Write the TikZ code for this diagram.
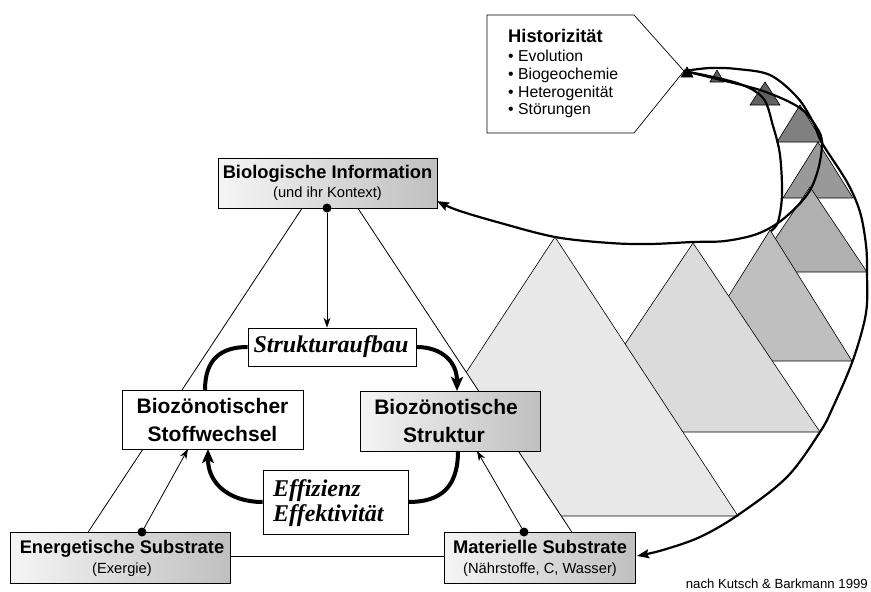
\documentclass[tikz,border=0pt]{standalone}
\usepackage{fontspec}
\setmainfont{Liberation Sans}
\newfontfamily\tmsfont{Liberation Serif}
\usetikzlibrary{arrows.meta}
\definecolor{tA}{gray}{0.91}
\definecolor{tB}{gray}{0.86}
\definecolor{tC}{gray}{0.75}
\definecolor{tD}{gray}{0.69}
\definecolor{tE}{gray}{0.60}
\definecolor{tF}{gray}{0.50}
\definecolor{tG}{gray}{0.38}
\definecolor{tH}{gray}{0.36}
\newcommand\myHead{\fontsize{18.3pt}{20pt}\selectfont\bfseries}
\newcommand\mySub{\fontsize{14.7pt}{16pt}\selectfont}
\newcommand\myMid{\fontsize{21pt}{24pt}\selectfont\bfseries}
\newcommand\myBI{\fontsize{24pt}{26pt}\selectfont\tmsfont\bfseries\itshape}
\newcommand\myBul{\fontsize{15.8pt}{18pt}\selectfont}
\begin{document}
\begin{tikzpicture}[x=1pt,y=-1pt,
  box/.style={draw, line width=0.8pt, inner sep=0pt},
  plainbox/.style={box, fill=white},
  shadebox/.style={box, left color=gray!8, right color=gray!50},
  lbl/.style={inner sep=0pt, anchor=base},
  lblw/.style={inner sep=0pt, anchor=base west},
  tri/.style={draw, line width=0.6pt},
  thin arrow/.style={line width=0.8pt, -{Stealth[length=10pt,width=7pt]}},
  cyc/.style={line width=4pt},
  cycarrow/.style={line width=4pt, -{Stealth[length=14pt,width=12pt,inset=3pt]}},
  spiral/.style={line width=2.2pt},
  spiralarrow/.style={line width=2.2pt, -{Stealth[length=12pt,width=9pt,inset=2pt]}},
  dot/.style={circle, fill=black, inner sep=0pt, minimum size=9pt}]
\useasboundingbox (0,0) rectangle (871,592);

% ---- pyramids (small/dark first, large/light on top)
\filldraw[tri, fill=black] (687,67) -- (693,77) -- (681,77) -- cycle;
\filldraw[tri, fill=tH] (717,70) -- (724,82) -- (710,82) -- cycle;
\filldraw[tri, fill=tG] (765,82) -- (780,105) -- (750,105) -- cycle;
\filldraw[tri, fill=tF] (800,105) -- (823,142) -- (777,142) -- cycle;
\filldraw[tri, fill=tE] (818,142) -- (853,198) -- (783,198) -- cycle;
\filldraw[tri, fill=tD] (810,187) -- (867,272) -- (753,272) -- cycle;
\filldraw[tri, fill=tC] (770,230) -- (852,361) -- (688,361) -- cycle;
\filldraw[tri, fill=tB] (693,243) -- (820,432) -- (566,432) -- cycle;
\filldraw[tri, fill=tA] (555,237) -- (738,516) -- (372,516) -- cycle;

% ---- white main triangle
\filldraw[fill=white, draw=black, line width=0.8pt] (330,166) -- (588,556.5) -- (72,556.5) -- cycle;

% ---- named points
\coordinate (tip) at (684,71);
\coordinate (bioin) at (437,201);
\coordinate (merge) at (771,231);

% ---- spiral curves
\draw[spiralarrow] plot[smooth, tension=0.55] coordinates {(tip) (710,68) (737,69) (770,75) (797,97) (813,122) (822,143) (847,182) (860,212) (866,245) (867,272) (866,313) (853,360) (833,407) (820,432) (787,477) (738,515) (700,537) (663,550) (637,556)};
\draw[spiralarrow] plot[smooth, tension=0.55] coordinates {(tip) (713,78) (763,91) (800,108) (817,128) (822,143) (818,170) (807,195) (782,220) (757,234) (725,241) (693,242) (650,244) (610,243) (555,237) (497,222) (457,210) (bioin)};
\draw[spiral] plot[smooth, tension=0.55] coordinates {(tip) (737,83) (763,98) (773,126) (780,155) (782,195) (778,222) (merge)};

% ---- Historizitaet
\filldraw[fill=white, draw=black, line width=0.7pt] (487,15) -- (634,15) -- (tip) -- (634,133) -- (487,133) -- cycle;
\node[lblw] (histT) at (508,42) {\myHead Historizität};
\node[lblw] (hist1) at (508,61) {\myBul • Evolution};
\node[lblw] (hist2) at (508,79) {\myBul • Biogeochemie};
\node[lblw] (hist3) at (508,97) {\myBul • Heterogenität};
\node[lblw] (hist4) at (508,114) {\myBul • Störungen};

% ---- boxes
\node[shadebox, minimum width=219pt, minimum height=50pt] (bio) at (327.5,183) {};
\node[shadebox, minimum width=220pt, minimum height=51pt] (energ) at (120,557.5) {};
\node[shadebox, minimum width=191pt, minimum height=51pt] (mater) at (539.5,557.5) {};
\node[plainbox, minimum width=181pt, minimum height=59pt] (stoff) at (212.5,419.5) {};
\node[shadebox, minimum width=180pt, minimum height=60pt] (struk) at (450,421) {};
\node[plainbox, minimum width=168pt, minimum height=38pt] (aufbau) at (332,347) {};
\node[plainbox, minimum width=145pt, minimum height=64pt] (effiz) at (335.5,502) {};

% ---- labels
\node[lbl] (bioA) at (327.5,178) {\myHead Biologische Information};
\node[lbl] (bioB) at (327.5,197) {\mySub (und ihr Kontext)};
\node[lbl] (enA) at (122,553) {\myHead Energetische Substrate};
\node[lbl] (enB) at (122,573) {\mySub (Exergie)};
\node[lbl] (maA) at (540,553) {\myHead Materielle Substrate};
\node[lbl] (maB) at (540,573) {\mySub (Nährstoffe, C, Wasser)};
\node[lbl] (stA) at (212.5,413) {\myMid Biozönotischer};
\node[lbl] (stB) at (212.5,441) {\myMid Stoffwechsel};
\node[lbl] (skA) at (446,414) {\myMid Biozönotische};
\node[lbl] (skB) at (444,442) {\myMid Struktur};
\node[lbl] (auA) at (331,352) {\myBI Strukturaufbau};
\node[lblw] (efA) at (273,496) {\myBI Effizienz};
\node[lblw] (efB) at (273,521) {\myBI Effektivität};
\node[inner sep=0pt, anchor=base east] (src) at (868,588.5) {\fontsize{13.2pt}{15pt}\selectfont nach Kutsch \& Barkmann 1999};

% ---- thin connectors with dots
\node[dot] (biodot) at (327,208) {};
\node[dot] (endot) at (142,532) {};
\node[dot] (madot) at (524,532) {};
\coordinate (stoffin) at (188,449);
\coordinate (strukin) at (477,451);
\draw[thin arrow] (biodot) -- (biodot |- aufbau.north);
\draw[thin arrow] (endot) -- (stoffin);
\draw[thin arrow] (madot) -- (strukin);

% ---- thick cycle
\coordinate (c1a) at (205,390);
\coordinate (c2b) at (457,391);
\coordinate (c3a) at (458,451);
\coordinate (c4b) at (208,449);
\draw[cyc] (c1a) .. controls (205,360) and (220,347) .. (aufbau.west);
\draw[cycarrow] (aufbau.east) .. controls (442,347) and (457,362) .. (c2b);
\draw[cyc] (c3a) .. controls (458,488) and (440,502) .. (effiz.east);
\draw[cycarrow] (effiz.west) .. controls (230,502) and (208,484) .. (c4b);
\end{tikzpicture}
\end{document}
